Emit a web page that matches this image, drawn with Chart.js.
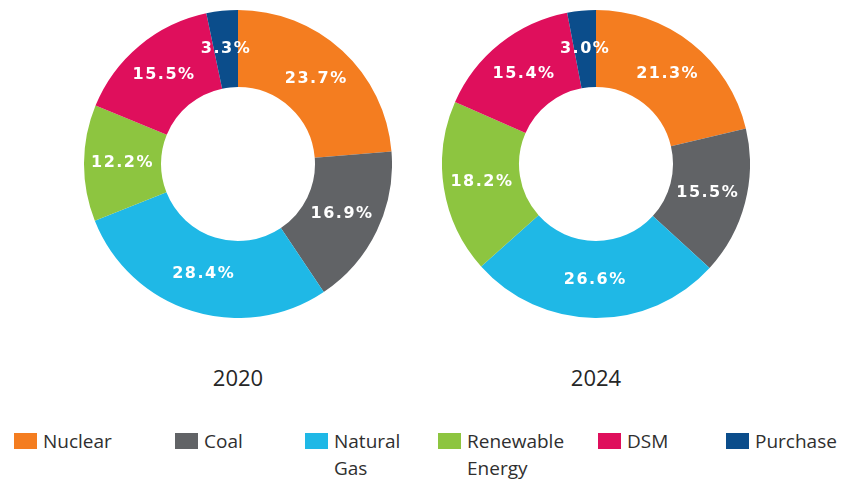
<!DOCTYPE html>
<html>
<head>
<meta charset="utf-8">
<script src="https://cdn.jsdelivr.net/npm/chart.js@4.4.0/dist/chart.umd.min.js"></script>
<style>
  html, body { margin: 0; padding: 0; background: #ffffff; }
  #wrap { position: relative; width: 844px; height: 482px; overflow: hidden; font-family: "Open Sans", sans-serif; }
  .pie { position: absolute; top: 10px; width: 308px; height: 308px; }
  .year { position: absolute; top: 362px; width: 120px; text-align: center; font-size: 22px; color: #262626; }
  .item { position: absolute; top: 428px; display: flex; align-items: flex-start; }
  .box { width: 23px; height: 16px; margin-top: 5px; margin-right: 6px; flex: none; }
  .txt { font-size: 19px; line-height: 27px; color: #2f2f2f; white-space: nowrap; }
</style>
</head>
<body>
<div id="wrap">
  <div class="pie" style="left:84px"><canvas id="c2020"></canvas></div>
  <div class="pie" style="left:442px"><canvas id="c2024"></canvas></div>
  <div class="year" style="left:178px">2020</div>
  <div class="year" style="left:536px">2024</div>
  <div id="legend"></div>
</div>
<script>
// Generation mix shares (%) by source
const sources = ["Nuclear", "Coal", "Natural Gas", "Renewable Energy", "DSM", "Purchase"];
const legendLines = [["Nuclear"], ["Coal"], ["Natural", "Gas"], ["Renewable", "Energy"], ["DSM"], ["Purchase"]];
const share2020 = [23.7, 16.9, 28.4, 12.2, 15.5, 3.3];
const share2024 = [21.3, 15.5, 26.6, 18.2, 15.4, 3.0];
const sourceColors = ["#F47D20", "#616366", "#1FB8E6", "#8DC540", "#DF0F5C", "#0B4D8B"];

// Horizontal placement of each legend entry
const legendLeft = [14, 175, 305, 438, 598, 726];

// Writes each slice's percentage in white at the middle of its ring segment
const sliceLabels = {
  id: "sliceLabels",
  afterDatasetsDraw(chart) {
    const ctx = chart.ctx;
    const meta = chart.getDatasetMeta(0);
    const values = chart.data.datasets[0].data;
    ctx.save();
    ctx.font = "bold 16px 'DejaVu Sans', sans-serif";
    ctx.letterSpacing = "1.5px";
    ctx.fillStyle = "#ffffff";
    ctx.textAlign = "center";
    ctx.textBaseline = "middle";
    meta.data.forEach((arc, i) => {
      const p = arc.tooltipPosition();
      ctx.fillText(values[i].toFixed(1) + "%", p.x, p.y);
    });
    ctx.restore();
  }
};

function makeDonut(id, values) {
  return new Chart(document.getElementById(id), {
    type: "doughnut",
    data: {
      labels: sources,
      datasets: [{
        data: values,
        backgroundColor: sourceColors,
        borderWidth: 0,
        hoverOffset: 0
      }]
    },
    options: {
      responsive: true,
      maintainAspectRatio: false,
      animation: false,
      cutout: "50%",
      layout: { padding: 0 },
      plugins: { legend: { display: false }, tooltip: { enabled: false } }
    },
    plugins: [sliceLabels]
  });
}

makeDonut("c2020", share2020);
makeDonut("c2024", share2024);

// Legend entries with colour swatches
const legend = document.getElementById("legend");
sources.forEach((name, i) => {
  const item = document.createElement("div");
  item.className = "item";
  item.style.left = legendLeft[i] + "px";
  const box = document.createElement("div");
  box.className = "box";
  box.style.background = sourceColors[i];
  const txt = document.createElement("div");
  txt.className = "txt";
  txt.innerHTML = legendLines[i].join("<br>");
  item.appendChild(box);
  item.appendChild(txt);
  legend.appendChild(item);
});
</script>
</body>
</html>
